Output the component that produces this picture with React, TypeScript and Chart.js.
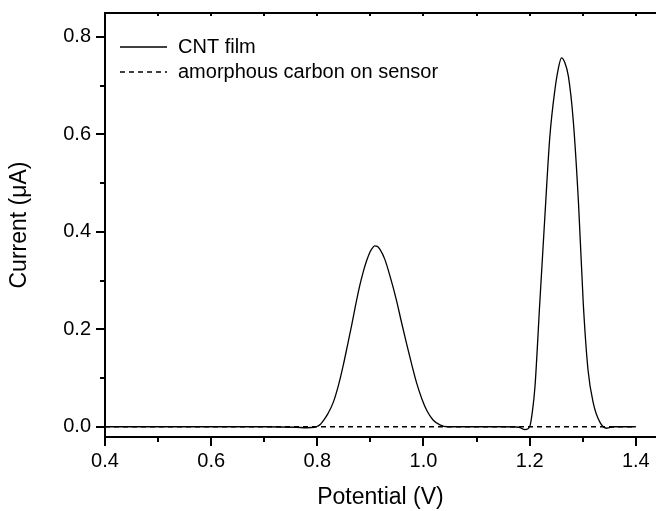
import { useEffect, useRef } from 'react';
import { Chart, registerables } from 'chart.js';

Chart.register(...registerables);

// ---- data ----
const seriesLabels = ['CNT film', 'amorphous carbon on sensor'];

const potentialCNT = [
  0.40, 0.50, 0.60, 0.70, 0.76, 0.78, 0.795, 0.80, 0.806, 0.811, 0.82, 0.83, 0.84, 0.849, 0.857, 0.865,
  0.872, 0.88, 0.887, 0.893, 0.899, 0.904, 0.908, 0.913, 0.918, 0.927, 0.938, 0.949, 0.958, 0.968,
  0.978, 0.987, 0.997, 1.006, 1.018, 1.031, 1.045, 1.10, 1.15, 1.18, 1.191, 1.200, 1.205, 1.210,
  1.219, 1.229, 1.238, 1.2475, 1.254, 1.260, 1.266, 1.273, 1.282, 1.292, 1.301, 1.310, 1.320, 1.332,
  1.345, 1.36, 1.40,
];
const currentCNT = [
  0.000, 0.000, 0.000, 0.000, -0.001, -0.002, -0.001, 0.001, 0.005, 0.012, 0.027, 0.050, 0.086, 0.127, 0.168, 0.210,
  0.249, 0.290, 0.320, 0.341, 0.358, 0.367, 0.371, 0.370, 0.364, 0.344, 0.305, 0.260, 0.217, 0.171,
  0.127, 0.090, 0.057, 0.034, 0.014, 0.004, 0.000, 0.000, 0.000, -0.001, -0.006, 0.000, 0.030, 0.082,
  0.253, 0.438, 0.595, 0.691, 0.735, 0.757, 0.748, 0.719, 0.630, 0.459, 0.253, 0.116, 0.048, 0.010,
  -0.003, 0.000, 0.000,
];

const potentialCarbon = [0.40, 0.60, 0.80, 1.00, 1.20, 1.40];
const currentCarbon = [0, 0, 0, 0, 0, 0];

const xMajorTicks = [0.4, 0.6, 0.8, 1.0, 1.2, 1.4];
const xMinorTicks = [0.5, 0.7, 0.9, 1.1, 1.3];
const yMajorTicks = [0.0, 0.2, 0.4, 0.6, 0.8];
const yMinorTicks = [0.1, 0.3, 0.5, 0.7];

const FONT = '"Liberation Sans", Arial, Helvetica, sans-serif';

const axisDecor = {
  id: 'axisDecor',
  afterDraw(chart: any) {
    const { ctx, chartArea: a, scales } = chart;
    const x = scales.x;
    const y = scales.y;
    ctx.save();
    ctx.strokeStyle = '#000';
    ctx.lineWidth = 2;
    const seg = (x1: number, y1: number, x2: number, y2: number) => {
      ctx.beginPath();
      ctx.moveTo(x1, y1);
      ctx.lineTo(x2, y2);
      ctx.stroke();
    };
    // top frame line
    seg(a.left - 1, a.top, a.right, a.top);
    xMajorTicks.forEach((v) => {
      const px = Math.round(x.getPixelForValue(v));
      seg(px, a.bottom, px, a.bottom + 9);
      seg(px, a.top, px, a.top + 3);
    });
    xMinorTicks.forEach((v) => {
      const px = Math.round(x.getPixelForValue(v));
      seg(px, a.bottom, px, a.bottom + 5);
      seg(px, a.top, px, a.top + 3);
    });
    yMajorTicks.forEach((v) => {
      const py = Math.round(y.getPixelForValue(v));
      seg(a.left, py, a.left - 9, py);
    });
    yMinorTicks.forEach((v) => {
      const py = Math.round(y.getPixelForValue(v));
      seg(a.left, py, a.left - 5, py);
    });

    // legend
    const datasets = chart.data.datasets;
    ctx.font = `20px ${FONT}`;
    ctx.fillStyle = '#000';
    ctx.textBaseline = 'middle';
    ctx.textAlign = 'left';
    datasets.forEach((ds: any, i: number) => {
      const ly = a.top + 34 + i * 25;
      const lx = a.left + 15;
      ctx.lineWidth = ds.borderWidth;
      ctx.setLineDash(ds.borderDash || []);
      seg(lx, ly, lx + 47, ly);
      ctx.setLineDash([]);
      ctx.fillText(ds.label, lx + 58, ly);
    });
    ctx.restore();
  },
};

export default function App() {
  const ref = useRef<HTMLCanvasElement | null>(null);

  useEffect(() => {
    if (!ref.current) return;
    const chart = new Chart(ref.current, {
      type: 'line',
      data: {
        datasets: [
          {
            label: seriesLabels[0],
            data: potentialCNT.map((p, i) => ({ x: p, y: currentCNT[i] })),
            borderColor: '#000',
            borderWidth: 1.3,
            pointRadius: 0,
            cubicInterpolationMode: 'monotone',
            fill: false,
          },
          {
            label: seriesLabels[1],
            data: potentialCarbon.map((p, i) => ({ x: p, y: currentCarbon[i] })),
            borderColor: '#000',
            borderWidth: 1.3,
            borderDash: [5, 4],
            pointRadius: 0,
            fill: false,
          },
        ],
      },
      options: {
        animation: false,
        responsive: false,
        devicePixelRatio: 1,
        layout: { padding: { top: 13, right: 0, left: 0, bottom: 0 } },
        plugins: {
          legend: { display: false },
          tooltip: { enabled: false },
        },
        scales: {
          x: {
            type: 'linear',
            min: 0.4,
            max: 1.438,
            grid: { display: false, drawTicks: false },
            border: { display: true, color: '#000', width: 2 },
            ticks: {
              stepSize: 0.2,
              includeBounds: false,
              color: '#000',
              padding: 12,
              maxRotation: 0,
              font: { family: FONT, size: 20 },
              callback: (v: any) => Number(v).toFixed(1),
            },
            title: {
              display: true,
              text: 'Potential (V)',
              color: '#000',
              font: { family: FONT, size: 23 },
              padding: { top: 0, bottom: 0 },
            },
            afterFit: (s: any) => {
              s.height = 74;
              s.paddingLeft = 0;
              s.paddingRight = 0;
            },
          },
          y: {
            type: 'linear',
            min: -0.021,
            max: 0.849,
            grid: { display: false, drawTicks: false },
            border: { display: true, color: '#000', width: 2 },
            ticks: {
              stepSize: 0.2,
              includeBounds: false,
              color: '#000',
              padding: 14,
              font: { family: FONT, size: 20 },
              callback: (v: any) => Number(v).toFixed(1),
            },
            title: {
              display: true,
              text: 'Current (μA)',
              color: '#000',
              font: { family: FONT, size: 23 },
              padding: { top: 6, bottom: 0 },
            },
            afterFit: (s: any) => {
              s.width = 105;
              s.paddingTop = 0;
              s.paddingBottom = 0;
            },
          },
        },
      },
      plugins: [axisDecor],
    });
    return () => chart.destroy();
  }, []);

  return (
    <div style={{ position: 'absolute', left: 0, top: 0, width: 656, height: 511, background: '#fff' }}>
      <canvas ref={ref} width={656} height={511} style={{ display: 'block' }} />
    </div>
  );
}
